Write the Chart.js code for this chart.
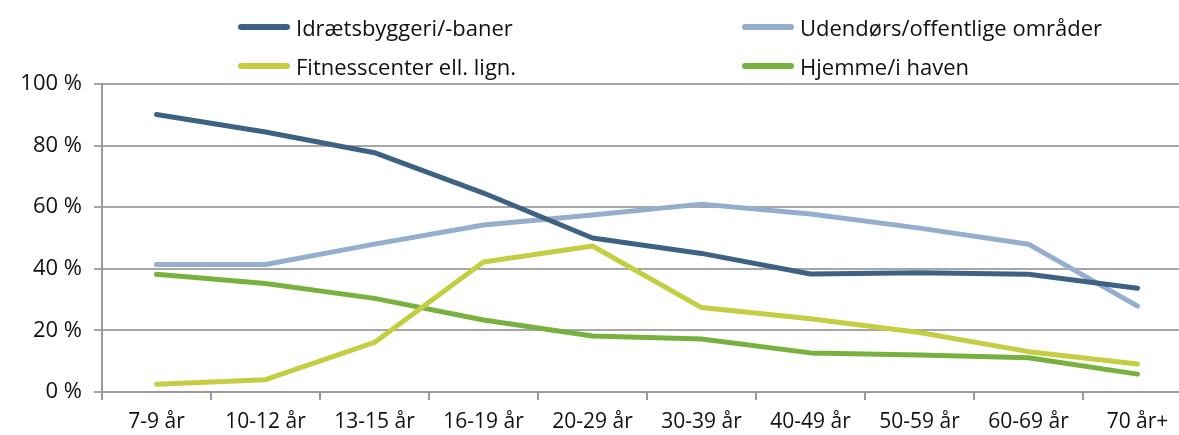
<!DOCTYPE html>
<html>
<head>
<meta charset="utf-8">
<script src="https://cdn.jsdelivr.net/npm/chart.js@4"></script>
<style>
  html, body { margin: 0; padding: 0; overflow: hidden; background: #fff; }
  #wrap { position: relative; width: 1192px; height: 435px; }
  #legend { position: absolute; left: 0; top: 0; width: 1192px; height: 80px;
            font-family: 'Open Sans', sans-serif; font-size: 22px; color: #111; }
  .item { position: absolute; display: flex; align-items: center; white-space: nowrap; }
  .swatch { width: 52px; height: 6px; border-radius: 3px; margin-right: 6px; }
</style>
</head>
<body>
<div id="wrap">
  <canvas id="grafik" width="1192" height="435"></canvas>
  <div id="legend"></div>
</div>
<script>
var kategorier = ['7-9 år', '10-12 år', '13-15 år', '16-19 år', '20-29 år', '30-39 år', '40-49 år', '50-59 år', '60-69 år', '70 år+'];
var idraet = [90.1, 84.4, 77.7, 64.6, 50.0, 45.0, 38.3, 38.7, 38.2, 33.7];
var udendors = [41.4, 41.4, 48.0, 54.2, 57.5, 61.0, 57.8, 53.2, 48.0, 27.9];
var fitness = [2.5, 4.0, 16.1, 42.2, 47.4, 27.4, 23.8, 19.3, 13.1, 9.1];
var hjemme = [38.2, 35.2, 30.4, 23.4, 18.2, 17.2, 12.7, 12.0, 11.1, 5.8];
var navne = ['Idrætsbyggeri/-baner', 'Udendørs/offentlige områder', 'Fitnesscenter ell. lign.', 'Hjemme/i haven'];
var farver = ['#3E6283', '#95AECE', '#C4CE42', '#79B13F'];

var serier = [idraet, udendors, fitness, hjemme];
var datasets = serier.map(function (v, i) {
    return {
        label: navne[i],
        data: v,
        borderColor: farver[i],
        backgroundColor: farver[i],
        borderWidth: 5,
        pointRadius: 0,
        tension: 0,
        borderCapStyle: 'round',
        borderJoinStyle: 'round'
    };
});

// forklaring i to kolonner
var pladser = [[238, 27], [742, 27], [238, 66], [742, 66]];
var leg = document.getElementById('legend');
navne.forEach(function (n, i) {
    var d = document.createElement('div');
    d.className = 'item';
    d.style.left = pladser[i][0] + 'px';
    d.style.top = (pladser[i][1] - 15) + 'px';
    d.innerHTML = '<span class="swatch" style="background:' + farver[i] + '"></span><span>' + n + '</span>';
    leg.appendChild(d);
});

var ctx = document.getElementById('grafik').getContext('2d');
var myChart = new Chart(ctx, {
    type: 'line',
    data: { labels: kategorier, datasets: datasets },
    options: {
        responsive: false,
        animation: false,
        layout: { padding: { top: 84, right: 0, bottom: 0, left: 0 } },
        plugins: { legend: { display: false }, tooltip: { enabled: false } },
        scales: {
            x: {
                offset: true,
                grid: { offset: true, drawOnChartArea: false, drawTicks: true, tickLength: 8, color: '#9A9A9A', lineWidth: 2 },
                border: { color: '#9A9A9A', width: 2 },
                ticks: { color: '#111', padding: 9, maxRotation: 0, autoSkip: false,
                         font: { family: 'Open Sans', size: 21 } },
                afterFit: function (s) { s.height = 43; }
            },
            y: {
                min: 0, max: 100,
                grid: { color: '#A6A6A6', lineWidth: 2, tickLength: 8 },
                border: { color: '#9A9A9A', width: 2 },
                ticks: { stepSize: 20, color: '#111', padding: 12,
                         font: { family: 'Open Sans', size: 22 },
                         callback: function (v) { return v + ' %'; } },
                afterFit: function (s) { s.width = 102; }
            }
        }
    }
});
</script>
</body>
</html>
